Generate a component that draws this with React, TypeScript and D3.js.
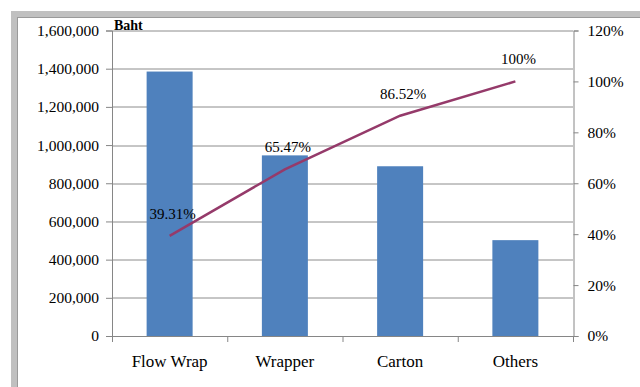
import React, { useRef, useEffect } from "react";
import * as d3 from "d3";

const categories = ["Flow Wrap", "Wrapper", "Carton", "Others"];
const amounts = [1385000, 946000, 889000, 502000];
const cumulative = [39.31, 65.47, 86.52, 100];
const cumulativeLabels = ["39.31%", "65.47%", "86.52%", "100%"];
const leftTicks = [0, 200000, 400000, 600000, 800000, 1000000, 1200000, 1400000, 1600000];
const rightTicks = [0, 20, 40, 60, 80, 100, 120];

const App = () => {
  const svgRef = useRef<SVGSVGElement>(null);

  useEffect(() => {
    const width = 640;
    const height = 387;
    const margin = { top: 30.5, right: 67, bottom: 51, left: 112 };
    const innerWidth = width - margin.left - margin.right;
    const innerHeight = height - margin.top - margin.bottom;

    const svg = d3.select(svgRef.current).attr("width", width).attr("height", height);
    svg.selectAll("*").remove();

    const font = "Liberation Serif, Times New Roman, serif";

    // outer frame
    svg.append("rect").attr("x", 11).attr("y", 11).attr("width", 640).attr("height", 400).attr("fill", "#c0c0c0");
    svg.append("rect").attr("x", 17).attr("y", 17).attr("width", 640).attr("height", 400).attr("fill", "#9a9a9a");
    svg.append("rect").attr("x", 18).attr("y", 18).attr("width", 640).attr("height", 400).attr("fill", "#ffffff");

    const xBand = d3.scaleBand().domain(categories).range([0, innerWidth]);
    const y = d3.scaleLinear().domain([0, 1600000]).range([innerHeight, 0]);
    const yPct = d3.scaleLinear().domain([0, 120]).range([innerHeight, 0]);

    const g = svg.append("g").attr("transform", `translate(${margin.left},${margin.top})`);

    // gridlines
    g.selectAll(".grid")
      .data(leftTicks.slice(1))
      .enter()
      .append("line")
      .attr("x1", 0)
      .attr("x2", innerWidth)
      .attr("y1", (d) => Math.round(y(d)) + 0.5)
      .attr("y2", (d) => Math.round(y(d)) + 0.5)
      .attr("stroke", "#8c8c8c")
      .attr("stroke-width", 1);

    // bars
    g.selectAll(".bar")
      .data(amounts)
      .enter()
      .append("rect")
      .attr("x", (d, i) => xBand(categories[i])! + (xBand.bandwidth() - 46) / 2)
      .attr("y", (d) => y(d))
      .attr("width", 46)
      .attr("height", (d) => innerHeight - y(d))
      .attr("fill", "#4f81bd");

    // left axis
    const leftAxis = g.append("g").call(
      d3.axisLeft(y).tickValues(leftTicks).tickSize(6).tickPadding(7).tickFormat((d) => d3.format(",")(d as number))
    );
    leftAxis.select(".domain").attr("stroke", "#868686");
    leftAxis.selectAll(".tick line").attr("stroke", "#868686");
    leftAxis.selectAll("text").style("font-family", font).style("font-size", "15.5px").attr("fill", "#000");

    // right axis
    const rightAxis = g.append("g").attr("transform", `translate(${innerWidth + 0.5},0)`).call(
      d3.axisRight(yPct).tickValues(rightTicks).tickSize(5).tickPadding(9).tickFormat((d) => `${d}%`)
    );
    rightAxis.select(".domain").attr("stroke", "#868686");
    rightAxis.selectAll(".tick line").attr("stroke", "#868686");
    rightAxis.selectAll("text").style("font-family", font).style("font-size", "15.5px").attr("fill", "#000");

    // bottom axis
    const bottomAxis = g.append("g").attr("transform", `translate(0,${innerHeight})`).call(
      d3.axisBottom(xBand).tickSize(6).tickPadding(13)
    );
    bottomAxis.select(".domain").attr("stroke", "#868686");
    bottomAxis.selectAll(".tick line").remove();
    [0, 1, 2, 3, 4].forEach((i) => {
      bottomAxis.append("line")
        .attr("x1", i * xBand.step() + 0.5)
        .attr("x2", i * xBand.step() + 0.5)
        .attr("y1", 0)
        .attr("y2", 6)
        .attr("stroke", "#868686");
    });
    bottomAxis.selectAll("text").style("font-family", font).style("font-size", "17px").attr("fill", "#000");

    // cumulative line
    const line = d3.line<number>()
      .x((d, i) => xBand(categories[i])! + xBand.bandwidth() / 2)
      .y((d) => yPct(d));
    g.append("path")
      .datum(cumulative)
      .attr("d", line)
      .attr("fill", "none")
      .attr("stroke", "#953a6a")
      .attr("stroke-width", 2.5);

    g.selectAll(".pct")
      .data(cumulative)
      .enter()
      .append("text")
      .attr("x", (d, i) => xBand(categories[i])! + xBand.bandwidth() / 2 + 3)
      .attr("y", (d) => yPct(d) - 17)
      .attr("text-anchor", "middle")
      .style("font-family", font)
      .style("font-size", "15px")
      .attr("fill", "#000")
      .text((d, i) => cumulativeLabels[i]);

    // unit label
    g.append("text")
      .attr("x", 2)
      .attr("y", -1)
      .style("font-family", font)
      .style("font-size", "14px")
      .style("font-weight", "bold")
      .attr("fill", "#000")
      .text("Baht");
  }, []);

  return <svg ref={svgRef} style={{ position: "absolute", left: 0, top: 0 }}></svg>;
};

export default App;
